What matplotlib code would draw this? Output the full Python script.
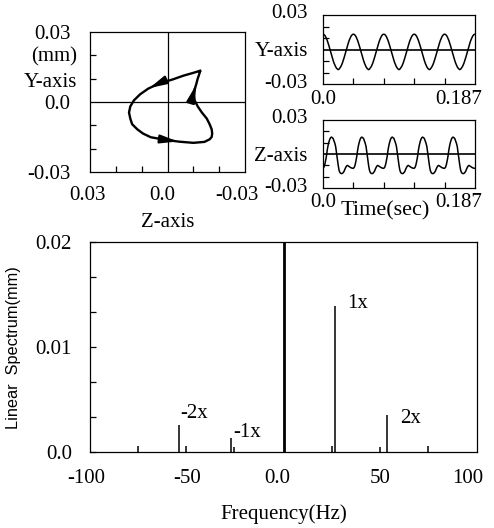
import numpy as np
import matplotlib
matplotlib.use('Agg')
import matplotlib.pyplot as plt
from matplotlib.transforms import ScaledTranslation

# One measured revolution of the shaft centre, sampled every 10 degrees (mm)
y_cycle = [0.0133, 0.0131, 0.0124, 0.0113, 0.0097, 0.0079, 0.0057, 0.0033, 0.0007,
           -0.0019, -0.0045, -0.0071, -0.0095, -0.0117, -0.0135, -0.0151, -0.0162, -0.0170,
           -0.0175, -0.0171, -0.0160, -0.0150, -0.0135, -0.0117, -0.0095, -0.0071, -0.0045,
           -0.0019, 0.0007, 0.0033, 0.0057, 0.0079, 0.0097, 0.0113, 0.0124, 0.0131]
z_cycle = [-0.0126, -0.0118, -0.0097, -0.0062, -0.0021, 0.0034, 0.0075, 0.0106, 0.0130,
           0.0144, 0.0149, 0.0144, 0.0137, 0.0117, 0.0095, 0.0065, 0.0009, -0.0045,
           -0.0100, -0.0143, -0.0163, -0.0171, -0.0173, -0.0171, -0.0163, -0.0152, -0.0133,
           -0.0117, -0.0105, -0.0101, -0.0106, -0.0112, -0.0116, -0.0121, -0.0124, -0.0126]
n_cycles = 5
t_end = 0.187

# Linear spectrum lines (Hz, mm); the DC line runs off the top of the scale
freqs = [-75.1, -53.9, -50.4, -27.3, -25.6, 0.3, 24.9, 26.6, 49.9, 53.3, 74.8]
amps = [0.0006, 0.0026, 0.0006, 0.0013, 0.0005, 0.0210, 0.0006, 0.0139, 0.0005, 0.0035, 0.0006]
peak_labels = {'1x': 26.6, '2x': 53.3, '-1x': -27.3, '-2x': -53.9}

plt.rcParams['font.family'] = 'Liberation Serif'
plt.rcParams['font.size'] = 15
plt.rcParams['axes.linewidth'] = 0.9

W, H = 494, 528
fig = plt.figure(figsize=(W / 100, H / 100), dpi=100)


def box(left, top, right, bottom):
    return [left / W, 1 - bottom / H, (right - left) / W, (bottom - top) / H]


def shift(label, dx_px, dy_px=0):
    label.set_transform(label.get_transform() +
                        ScaledTranslation(dx_px / 100, dy_px / 100, fig.dpi_scale_trans))


# build time series from the measured cycle
y_series = np.append(np.tile(y_cycle, n_cycles), y_cycle[0])
z_series = np.append(np.tile(z_cycle, n_cycles), z_cycle[0])
t = np.arange(len(y_series)) * t_end / (len(y_series) - 1)

# ---- orbit ----
ax_o = fig.add_axes(box(90, 32, 245, 172))
oz = z_cycle + [z_cycle[0]]
oy = y_cycle + [y_cycle[0]]
ax_o.plot(oz, oy, color='black', lw=1.7, solid_joinstyle='round')
ax_o.axhline(0, color='black', lw=0.9)
ax_o.axvline(0, color='black', lw=0.9)
for k in [5, 16, 30]:
    ax_o.annotate('', xy=(oz[k + 1], oy[k + 1]), xytext=(oz[k], oy[k]),
                  arrowprops=dict(arrowstyle='-|>,head_length=0.7,head_width=0.17',
                                  color='black', lw=1.5, shrinkA=0, shrinkB=1))
ax_o.set_xlim(0.03, -0.03)
ax_o.set_ylim(-0.03, 0.03)
ax_o.set_xticks([0.03, 0.0, -0.03], ['0.03', '0.0', '-0.03'])
ax_o.set_yticks([-0.03, 0.0, 0.03], ['-0.03', '0.0', '0.03'])
ax_o.set_xticks([-0.02, -0.01, 0.01, 0.02], minor=True)
ax_o.set_yticks([-0.02, -0.01, 0.01, 0.02], minor=True)
ax_o.tick_params(which='major', length=0)
ax_o.tick_params(axis='y', which='major', pad=14)
ax_o.tick_params(axis='x', which='major', pad=10)
ax_o.tick_params(which='minor', direction='in', length=4, width=0.9)
xl = ax_o.get_xticklabels()
shift(xl[0], -3)
shift(xl[1], -5)
shift(xl[2], -8)
ax_o.text(-0.084, 0.82, '(mm)', transform=ax_o.transAxes, ha='right', va='center')
ax_o.text(-0.084, 0.64, 'Y-axis', transform=ax_o.transAxes, ha='right', va='center')
ax_o.set_xlabel('Z-axis', labelpad=6)

# ---- time traces ----
minor_t = np.linspace(0, t_end, n_cycles + 1)[1:-1]
for top, bottom, series, name in [(15, 84, y_series, 'Y-axis'), (120, 188, z_series, 'Z-axis')]:
    ax = fig.add_axes(box(323, top, 475, bottom))
    ax.plot(t, series, color='black', lw=1.1)
    ax.axhline(0, color='black', lw=1.2)
    ax.set_xlim(0, t_end)
    ax.set_ylim(-0.03, 0.03)
    ax.set_xticks([])
    ax.set_xticks(minor_t, minor=True)
    ax.set_yticks([-0.03, 0.0, 0.03], ['-0.03', name, '0.03'])
    ax.set_yticks([-0.02, -0.01, 0.01, 0.02], minor=True)
    ax.tick_params(axis='y', which='major', length=0, pad=11)
    ax.tick_params(which='minor', direction='in', length=4, width=0.9)
    yl = ax.get_yticklabels()
    shift(yl[0], 0, 3)
    shift(yl[2], 0, 4)
    ax.text(0.0, -0.22, '0.0', transform=ax.transAxes, ha='center', va='center')
    ax.text(0.89, -0.22, '0.187', transform=ax.transAxes, ha='center', va='center')
    if name == 'Z-axis':
        ax.text(0.41, -0.33, 'Time(sec)', transform=ax.transAxes, ha='center',
                va='center', fontsize=16)

# ---- linear spectrum ----
ax_s = fig.add_axes(box(90, 242, 477, 452))
lw = [2.0 if abs(f) < 1 else 1.1 for f in freqs]
ax_s.vlines(freqs, 0, amps, colors='black', linewidths=lw)
ax_s.set_xlim(-100, 100)
ax_s.set_ylim(0, 0.02)
ax_s.set_xticks([-100, -50, 0, 50, 100], ['-100', '-50', '0.0', '50', '100'])
ax_s.set_yticks([0, 0.01, 0.02], ['0.0', '0.01', '0.02'])
ax_s.set_yticks([0.01 / 3, 0.02 / 3, 0.04 / 3, 0.05 / 3], minor=True)
ax_s.tick_params(axis='x', length=0, pad=12)
ax_s.tick_params(axis='y', which='major', direction='in', length=4, width=0.9, pad=13)
ax_s.tick_params(axis='y', which='minor', direction='in', length=4, width=0.9)
sx = ax_s.get_xticklabels()
shift(sx[0], -4)
shift(sx[2], -6)
shift(sx[4], -9)

offsets = {'1x': (16, 2), '2x': (17, -2), '-2x': (11, 8), '-1x': (12, 4)}
for lab, f in peak_labels.items():
    a = amps[freqs.index(f)]
    ax_s.annotate(lab, xy=(f, a), xytext=offsets[lab], textcoords='offset points',
                  ha='center', va='center')

ax_s.set_xlabel('Frequency(Hz)', labelpad=12)
fig.text(14 / W, 1 - 348 / H, 'Linear  Spectrum(mm)', family='Liberation Sans',
         fontsize=11.7, rotation=90, ha='center', va='center')

fig.savefig('out.png', dpi=100)
